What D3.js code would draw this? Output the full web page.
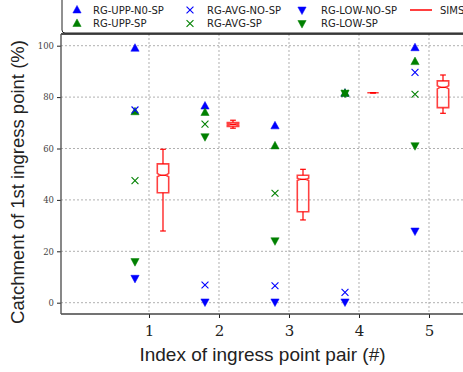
<!DOCTYPE html>
<html>
<head>
	<meta charset="utf-8">
	<script src="https://d3js.org/d3.v7.min.js"></script>
	<style>
		body { margin: 0; background-color: white; }
		svg { display: block; }
	</style>
</head>
<body>
<script>
// *** chart data
var pairs = [1, 2, 3, 4, 5];
var yTicks = [0, 20, 40, 60, 80, 100];

var uppNoSp = [99.0, 76.5, 68.8, 81.5, 99.2];
var uppSp   = [74.3, 74.0, 61.0, 81.5, 93.8];
var avgNoSp = [75.0, 6.9, 6.6, 4.0, 89.6];
var avgSp   = [47.5, 69.5, 42.6, 81.5, 81.1];
var lowNoSp = [9.5, 0.3, 0.3, 0.3, 27.9];
var lowSp   = [16.0, 64.6, 24.1, 81.5, 61.1];

// SIMS notched box plots
var simsWhiskLo = [27.9, 67.9, 32.2, 81.7, 73.7];
var simsQ1      = [42.8, 68.6, 35.4, 81.7, 75.9];
var simsNotchLo = [49.0, 69.1, 47.5, 81.7, 83.2];
var simsMed     = [49.6, 69.4, 48.0, 81.7, 83.8];
var simsNotchHi = [50.3, 69.7, 48.4, 81.7, 84.4];
var simsQ3      = [54.0, 70.1, 49.6, 81.7, 86.3];
var simsWhiskHi = [59.7, 71.0, 51.9, 81.7, 88.6];

var legendNames = ["RG-UPP-N0-SP", "RG-UPP-SP", "RG-AVG-NO-SP", "RG-AVG-SP", "RG-LOW-NO-SP", "RG-LOW-SP", "SIMS"];

var blue = "#0000ff", green = "#008000", red = "#ff0000";

var series = [
	{ values: uppNoSp, color: blue, shape: "up" },
	{ values: uppSp, color: green, shape: "up" },
	{ values: avgNoSp, color: blue, shape: "x" },
	{ values: avgSp, color: green, shape: "x" },
	{ values: lowNoSp, color: blue, shape: "down" },
	{ values: lowSp, color: green, shape: "down" }
];

var W = 463, H = 372;
var frame = { left: 61, right: 464, top: 34, bottom: 314 };

var svg = d3.select("body").append("svg")
	.attr("width", W)
	.attr("height", H);

// *** scales
var xScale = d3.scaleLinear().domain([-0.257, 5.5]).range([frame.left, frame.right]);
var yScale = d3.scaleLinear().domain([0, 100]).range([302.7, 45.7]);

// *** grid
var grid = svg.append("g");
grid.selectAll(".gx").data(pairs).enter().append("line")
	.attr("x1", function(d){ return xScale(d); })
	.attr("x2", function(d){ return xScale(d); })
	.attr("y1", frame.top).attr("y2", frame.bottom);
grid.selectAll(".gy").data(yTicks).enter().append("line")
	.attr("x1", frame.left).attr("x2", frame.right)
	.attr("y1", function(d){ return yScale(d); })
	.attr("y2", function(d){ return yScale(d); });
grid.selectAll("line")
	.attr("stroke", "#b0b0b0")
	.attr("stroke-width", 1)
	.attr("stroke-dasharray", "2,2");

// *** axes
var xAxis = d3.axisBottom(xScale).tickValues(pairs).tickSize(4).tickFormat(d3.format("d"));
var yAxis = d3.axisLeft(yScale).tickValues(yTicks).tickSize(4).tickFormat(d3.format("d"));

var xg = svg.append("g")
	.attr("transform", "translate(0," + frame.bottom + ")")
	.call(xAxis);
xg.select(".domain").remove();
xg.selectAll("text")
	.attr("font-family", "DejaVu Serif, serif")
	.attr("font-size", "15px")
	.attr("fill", "#222")
	.attr("dy", "1.0em");
xg.selectAll("line").attr("stroke", "#222");

var yg = svg.append("g")
	.attr("transform", "translate(" + frame.left + ",0)")
	.call(yAxis);
yg.select(".domain").remove();
yg.selectAll("text")
	.attr("font-family", "DejaVu Serif, serif")
	.attr("font-size", "8.5px")
	.attr("fill", "#444")
	.attr("x", -7);
yg.selectAll("line").attr("stroke", "#222");

// *** SIMS boxes
var boxW = 11.4;
var boxes = svg.append("g");
pairs.forEach(function(p, i){
	var cx = xScale(p + 0.2);
	var l = cx - boxW / 2, r = cx + boxW / 2, ins = boxW / 4;
	var capL = cx - boxW / 4, capR = cx + boxW / 4;
	var g = boxes.append("g");
	// whiskers
	g.append("line").attr("x1", cx).attr("x2", cx)
		.attr("y1", yScale(simsQ3[i])).attr("y2", yScale(simsWhiskHi[i]));
	g.append("line").attr("x1", cx).attr("x2", cx)
		.attr("y1", yScale(simsQ1[i])).attr("y2", yScale(simsWhiskLo[i]));
	g.append("line").attr("x1", capL).attr("x2", capR)
		.attr("y1", yScale(simsWhiskHi[i])).attr("y2", yScale(simsWhiskHi[i]));
	g.append("line").attr("x1", capL).attr("x2", capR)
		.attr("y1", yScale(simsWhiskLo[i])).attr("y2", yScale(simsWhiskLo[i]));
	g.selectAll("line").attr("stroke", red).attr("stroke-width", 1.2);
	// notched box
	var pts = [
		[l, yScale(simsQ1[i])], [l, yScale(simsNotchLo[i])], [l + ins, yScale(simsMed[i])],
		[l, yScale(simsNotchHi[i])], [l, yScale(simsQ3[i])], [r, yScale(simsQ3[i])],
		[r, yScale(simsNotchHi[i])], [r - ins, yScale(simsMed[i])], [r, yScale(simsNotchLo[i])],
		[r, yScale(simsQ1[i])]
	];
	g.append("path")
		.attr("d", d3.line()(pts) + "Z")
		.attr("fill", "none")
		.attr("stroke", red)
		.attr("stroke-opacity", 0.75)
		.attr("stroke-width", 1.6);
	g.append("line")
		.attr("x1", l + ins).attr("x2", r - ins)
		.attr("y1", yScale(simsMed[i])).attr("y2", yScale(simsMed[i]))
		.attr("stroke", red).attr("stroke-width", 1.4);
});

// *** marker shapes
function markerPath(shape, s){
	if (shape === "up") return "M0," + (-s) + "L" + (s * 0.9) + "," + (s * 0.65) + "L" + (-s * 0.9) + "," + (s * 0.65) + "Z";
	if (shape === "down") return "M0," + s + "L" + (s * 0.9) + "," + (-s * 0.65) + "L" + (-s * 0.9) + "," + (-s * 0.65) + "Z";
	return "M" + (-s * 0.75) + "," + (-s * 0.75) + "L" + (s * 0.75) + "," + (s * 0.75) +
		"M" + (-s * 0.75) + "," + (s * 0.75) + "L" + (s * 0.75) + "," + (-s * 0.75);
}
function drawMarker(sel, shape, color){
	sel.append("path")
		.attr("d", markerPath(shape, 4.6))
		.attr("fill", shape === "x" ? "none" : color)
		.attr("stroke", color)
		.attr("stroke-width", shape === "x" ? 1.1 : 0.5);
}

var marks = svg.append("g");
series.forEach(function(s){
	s.values.forEach(function(v, i){
		var m = marks.append("g")
			.attr("transform", "translate(" + xScale(pairs[i] - 0.2) + "," + yScale(v) + ")");
		drawMarker(m, s.shape, s.color);
	});
});

// *** frame (right side falls outside the picture)
var spines = svg.append("g");
spines.append("line").attr("x1", frame.left).attr("x2", frame.right)
	.attr("y1", frame.top).attr("y2", frame.top).attr("stroke", "#111").attr("stroke-width", 1.6);
spines.append("line").attr("x1", frame.left).attr("x2", frame.right)
	.attr("y1", frame.bottom).attr("y2", frame.bottom).attr("stroke", "#444").attr("stroke-width", 1.4);
spines.append("line").attr("x1", frame.left).attr("x2", frame.left)
	.attr("y1", frame.top).attr("y2", frame.bottom).attr("stroke", "#555").attr("stroke-width", 1.4);

// *** legend
var legend = svg.append("g");
legend.append("rect")
	.attr("x", 62).attr("y", -4)
	.attr("width", 420).attr("height", 37)
	.attr("rx", 3).attr("ry", 3)
	.attr("fill", "white")
	.attr("stroke", "#222")
	.attr("stroke-width", 1);
var legCols = [[77, 93], [190, 207], [302, 321], [421, 440]];
var legRows = [10, 23.5];
var legShapes = [series[0], series[1], series[2], series[3], series[4], series[5]];
legendNames.forEach(function(name, i){
	var col = legCols[Math.floor(i / 2)], row = legRows[i % 2];
	var item = legend.append("g");
	if (i < 6) {
		var m = item.append("g").attr("transform", "translate(" + col[0] + "," + row + ")");
		drawMarker(m, legShapes[i].shape, legShapes[i].color);
	} else {
		item.append("line")
			.attr("x1", col[0] - 11).attr("x2", col[0] + 11)
			.attr("y1", row).attr("y2", row)
			.attr("stroke", red).attr("stroke-width", 1.5);
	}
	item.append("text")
		.attr("x", col[1]).attr("y", row)
		.attr("dy", "0.35em")
		.attr("font-family", "DejaVu Sans, sans-serif")
		.attr("font-size", "10px")
		.attr("fill", "#222")
		.text(name);
});

// *** axis titles
svg.append("text")
	.attr("x", (frame.left + frame.right) / 2)
	.attr("y", 361)
	.attr("text-anchor", "middle")
	.attr("font-family", "Liberation Sans, sans-serif")
	.attr("font-size", "19px")
	.attr("fill", "#222")
	.text("Index of ingress point pair (#)");

svg.append("text")
	.attr("transform", "translate(24,182) rotate(-90)")
	.attr("text-anchor", "middle")
	.attr("font-family", "Liberation Sans, sans-serif")
	.attr("font-size", "18.5px")
	.attr("fill", "#222")
	.text("Catchment of 1st ingress point (%)");
</script>
</body>
</html>
